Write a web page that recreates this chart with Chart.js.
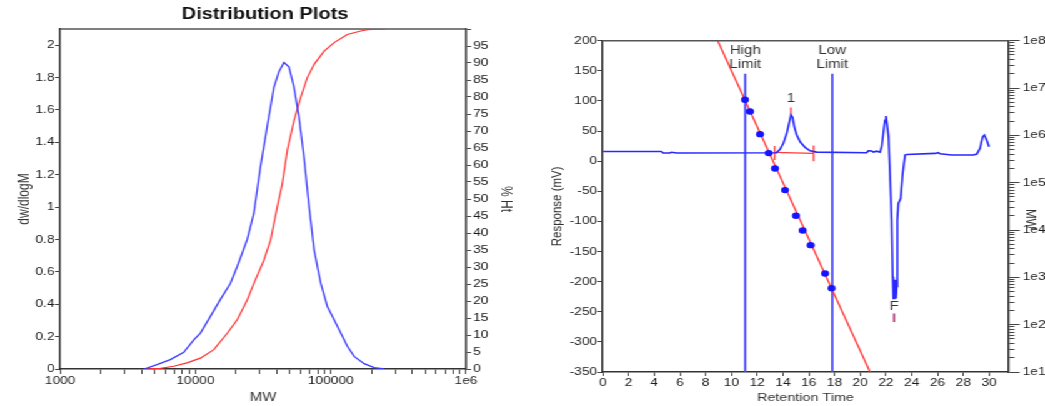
<!DOCTYPE html>
<html>
<head>
<meta charset="utf-8">
<script src="https://cdn.jsdelivr.net/npm/chart.js@4.4.1/dist/chart.umd.min.js"></script>
<style>
html, body { margin: 0; padding: 0; background: #fff; overflow: hidden; }
/* the source picture is stretched sideways, so the whole page is too */
#wrap { position: absolute; left: 0; top: 0; width: 836px; height: 406px; transform: scaleX(1.25); transform-origin: 0 0; }
#left { position: absolute; left: 0; top: 0; width: 424px; height: 406px; }
#right { position: absolute; left: 424px; top: 0; width: 412px; height: 406px; }
</style>
</head>
<body>
<div id="wrap">
  <div id="left"><canvas id="dist"></canvas></div>
  <div id="right"><canvas id="chrom"></canvas></div>
</div>
<script>
// distribution plot
var mwDist = [4190, 5200, 6530, 8200, 9730, 10890, 12910, 15310, 18160, 20370, 24150, 27040, 30270, 33960, 38020, 41400,
              45080, 49090, 53460, 58210, 63390, 69180, 75340, 84330, 94410, 105900, 118600, 132700, 148900, 176600, 209400, 248300];
var dwdlogM = [0, 0.027, 0.058, 0.103, 0.18, 0.222, 0.325, 0.43, 0.53, 0.633, 0.80, 0.962, 1.25, 1.50, 1.74, 1.836,
               1.893, 1.866, 1.743, 1.558, 1.311, 1.003, 0.736, 0.53, 0.386, 0.304, 0.222, 0.14, 0.078, 0.033, 0.008, 0];
var mwCum = [4190, 5510, 6920, 8670, 10890, 13680, 17180, 20370, 24150, 27040, 32060, 35940, 40270, 43850, 47760,
             53460, 59980, 67140, 75340, 89330, 105900, 132700, 166700, 187000, 255300];
var pctHt = [0, 0.2, 0.8, 1.8, 3.2, 5.7, 10.5, 14.5, 20.3, 25.2, 32, 37.9, 47.7, 54.5, 64.3,
             73, 79.9, 85.7, 89.6, 93.5, 96, 98.4, 99.4, 99.8, 100];

// chromatogram
var rtTime = [0, 4.55, 4.7, 5.2, 5.35, 5.75, 13.5, 13.77, 14.03, 14.29, 14.47, 14.62, 14.75, 14.88, 15.07, 15.33,
              15.72, 16.1, 16.62, 20.5, 20.63, 20.89, 21.02, 21.28, 21.54, 21.67, 21.8, 21.92, 22.0, 22.08, 22.2,
              22.31, 22.44, 22.52, 22.57, 22.68, 22.73, 22.78, 22.83, 22.88, 22.96, 23.14, 23.3, 23.48, 23.61,
              25.81, 26.07, 26.2, 27.1, 28.79, 29.05, 29.3, 29.51, 29.64, 29.82, 30.0];
var rtResponse = [16, 16, 13.5, 13.5, 14.8, 13.5, 14, 19.6, 29.6, 46.2, 62.8, 76.6, 72.8, 57.1, 43.3, 32.2,
                  22.9, 17.3, 15.1, 14, 17.3, 16.9, 15.1, 16.6, 15, 24, 48, 68, 75, 62, 40,
                  -20, -98, -192, -228, -228, -197, -228, -208, -98, -70, -62, -20, 10, 11,
                  12.9, 14, 12.3, 10.2, 10.2, 11.8, 21.2, 40.5, 43.3, 35, 24];
var stdTime = [11.05, 11.44, 12.22, 12.89, 13.38, 14.16, 15.01, 15.53, 16.15, 17.27, 17.78];
var stdMW = [5660000, 3200000, 1060000, 422000, 200000, 69800, 20000, 9800, 4790, 1205, 589];
var calTime = [8.93, 20.76];
var calMW = [1e8, 10];
var limitTime = [11.07, 17.83];
var limitResp = [-350, 145];
// red integration marks: [t1, r1, t2, r2]
var peakMarks = [[13.35, 14.6, 16.38, 12.9], [13.35, 25, 13.35, 2], [16.38, 26, 16.38, 0], [14.62, 77, 14.62, 89]];
var fMark = [22.63, -253, 22.63, -267];
var noteText = ['High', 'Limit', 'Low', 'Limit', '1', 'F'];
var noteTime = [11.07, 11.07, 17.83, 17.83, 14.62, 22.63];
var noteResp = [183, 160, 183, 160, 103, -241];

var FONT = "'Liberation Sans', Arial, sans-serif";
Chart.defaults.font.family = FONT;
Chart.defaults.color = '#1a1a1a';

function intSignificand(v) {
    var e = Math.floor(Math.log10(v) + 1e-9);
    var s = v / Math.pow(10, e);
    return Math.abs(s - Math.round(s)) < 1e-6;
}
function isPow10(v) {
    var l = Math.log10(v);
    return Math.abs(l - Math.round(l)) < 1e-9;
}
function pts(xs, ys) {
    return xs.map(function(x, i) { return {x: x, y: ys[i]}; });
}

var topBorder = {
    id: 'topBorder',
    beforeDatasetsDraw: function(chart) {
        var a = chart.chartArea, ctx = chart.ctx;
        ctx.save();
        ctx.strokeStyle = '#555';
        ctx.lineWidth = 1.5;
        ctx.beginPath();
        ctx.moveTo(a.left, a.top);
        ctx.lineTo(a.right, a.top);
        ctx.stroke();
        ctx.restore();
    }
};

var axisGrid = {drawOnChartArea: false, tickColor: '#444', tickWidth: 1};
var axisBorder = {color: '#333', width: 1.5};
var tickFont = {size: 11};

new Chart(document.getElementById('dist'), {
    type: 'line',
    data: {
        datasets: [{
            data: pts(mwDist, dwdlogM),
            yAxisID: 'y',
            borderColor: '#3a3aff',
            borderWidth: 1.3,
            pointRadius: 0
        }, {
            data: pts(mwCum, pctHt),
            yAxisID: 'pct',
            borderColor: '#ff3030',
            borderWidth: 1.2,
            pointRadius: 0
        }]
    },
    options: {
        responsive: true,
        maintainAspectRatio: false,
        animation: false,
        plugins: {
            legend: {display: false},
            tooltip: {enabled: false},
            title: {
                display: true,
                text: 'Distribution Plots',
                color: '#111',
                font: {size: 16, weight: 'bold'},
                padding: {top: 5.4, bottom: 4.4}
            }
        },
        scales: {
            x: {
                type: 'logarithmic',
                min: 1000,
                max: 1e6,
                afterBuildTicks: function(s) { s.ticks = s.ticks.filter(function(t) { return intSignificand(t.value); }); },
                afterFit: function(s) { s.height = 37; },
                ticks: {
                    autoSkip: false, maxRotation: 0, padding: 0, font: tickFont,
                    callback: function(v) { return v >= 1e6 ? '1e6' : (isPow10(v) ? String(Math.round(v)) : ''); }
                },
                grid: Object.assign({tickLength: 5}, axisGrid),
                border: axisBorder,
                title: {display: true, text: 'MW', color: '#333', font: {size: 12}, padding: {top: 0, bottom: 1}}
            },
            y: {
                position: 'left',
                min: 0,
                max: 2.1,
                afterFit: function(s) { s.width = 48; },
                ticks: {
                    stepSize: 0.2, includeBounds: false, padding: 0.5, font: tickFont,
                    callback: function(v) { return String(Math.round(v * 10) / 10); }
                },
                grid: Object.assign({tickLength: 4}, axisGrid),
                border: axisBorder,
                title: {display: true, text: 'dw/dlogM', color: '#333', font: {size: 12}, padding: {top: 12.5}}
            },
            pct: {
                position: 'right',
                min: 0,
                max: 100,
                afterFit: function(s) { s.width = 51.2; },
                ticks: {
                    stepSize: 5, padding: 1.6, font: tickFont,
                    callback: function(v) { return v >= 100 ? '' : String(v); }
                },
                grid: Object.assign({tickLength: 4}, axisGrid),
                border: axisBorder,
                title: {display: true, text: '% Ht', color: '#333', font: {size: 12}, padding: {top: 12.8}}
            }
        }
    },
    plugins: [topBorder]
});

var notes = {
    id: 'notes',
    afterDatasetsDraw: function(chart) {
        var ctx = chart.ctx, x = chart.scales.x, y = chart.scales.y;
        ctx.save();
        ctx.font = '12px ' + FONT;
        ctx.fillStyle = '#333';
        ctx.textAlign = 'center';
        ctx.textBaseline = 'middle';
        noteText.forEach(function(t, i) {
            ctx.fillText(t, x.getPixelForValue(noteTime[i]), y.getPixelForValue(noteResp[i]));
        });
        ctx.restore();
    }
};

var chromSets = [{
    data: pts(stdTime, stdMW),
    yAxisID: 'mw',
    showLine: false,
    pointRadius: 3.2,
    pointBorderWidth: 0,
    pointBackgroundColor: '#1414ff'
}, {
    data: pts(calTime, calMW),
    yAxisID: 'mw',
    borderColor: '#ff3333',
    borderWidth: 1.3,
    pointRadius: 0
}, {
    data: pts(rtTime, rtResponse),
    yAxisID: 'y',
    borderColor: '#2828ff',
    borderWidth: 1.6,
    pointRadius: 0
}];
limitTime.forEach(function(t) {
    chromSets.push({
        data: pts([t, t], limitResp),
        yAxisID: 'y',
        borderColor: '#4646ff',
        borderWidth: 1.8,
        pointRadius: 0
    });
});
peakMarks.forEach(function(m) {
    chromSets.push({
        data: pts([m[0], m[2]], [m[1], m[3]]),
        yAxisID: 'y',
        borderColor: '#ff3a3a',
        borderWidth: 1.3,
        pointRadius: 0
    });
});
chromSets.push({
    data: pts([fMark[0], fMark[2]], [fMark[1], fMark[3]]),
    yAxisID: 'y',
    borderColor: '#a83070',
    borderWidth: 1.6,
    pointRadius: 0
});

new Chart(document.getElementById('chrom'), {
    type: 'line',
    data: {datasets: chromSets},
    options: {
        responsive: true,
        maintainAspectRatio: false,
        animation: false,
        layout: {padding: {top: 40.7}},
        plugins: {
            legend: {display: false},
            tooltip: {enabled: false}
        },
        scales: {
            x: {
                type: 'linear',
                min: 0,
                max: 31.5,
                afterFit: function(s) { s.height = 34; },
                ticks: {stepSize: 2, includeBounds: false, autoSkip: false, maxRotation: 0, padding: 0, font: tickFont},
                grid: Object.assign({tickLength: 4}, axisGrid),
                border: axisBorder,
                title: {display: true, text: 'Retention Time', color: '#333', font: {size: 11.5}, padding: {top: 0, bottom: 0.8}}
            },
            y: {
                position: 'left',
                min: -350,
                max: 200,
                afterFit: function(s) { s.width = 58.2; },
                ticks: {stepSize: 50, padding: 0, font: tickFont},
                grid: Object.assign({tickLength: 4.5}, axisGrid),
                border: axisBorder,
                title: {display: true, text: 'Response (mV)', color: '#333', font: {size: 11.5}, padding: {top: 14.5}}
            },
            mw: {
                type: 'logarithmic',
                position: 'right',
                min: 10,
                max: 1e8,
                afterBuildTicks: function(s) { s.ticks = s.ticks.filter(function(t) { return intSignificand(t.value); }); },
                afterFit: function(s) { s.width = 29.3; },
                ticks: {
                    autoSkip: false, padding: 2.5, font: tickFont,
                    callback: function(v) { return isPow10(v) ? '1e' + Math.round(Math.log10(v)) : ''; }
                },
                grid: {
                    drawOnChartArea: false, tickLength: 9, tickColor: '#444', tickWidth: 1,
                    tickBorderDash: function(c) { return (c.tick && isPow10(c.tick.value)) ? [] : [4, 30]; }
                },
                border: axisBorder,
                // leading spaces push the word down the axis, as in the source
                title: {display: true, text: '        MW', color: '#333', font: {size: 11.5}, padding: {top: 5.1}}
            }
        }
    },
    plugins: [topBorder, notes]
});
</script>
</body>
</html>
